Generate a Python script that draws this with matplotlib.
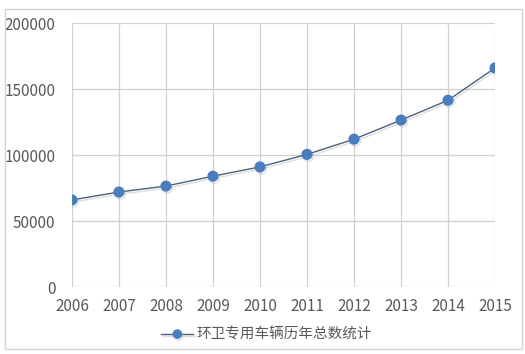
import matplotlib
matplotlib.use('Agg')
import matplotlib.pyplot as plt
from matplotlib.patches import Rectangle
import matplotlib.patheffects as pe

plt.rcParams['font.family'] = ['Noto Sans CJK SC', 'DejaVu Sans']

years = [2006, 2007, 2008, 2009, 2010, 2011, 2012, 2013, 2014, 2015]
totals = [66000, 72000, 76500, 84000, 91000, 100500, 112000, 126500, 141500, 166000]
series_name = '环卫专用车辆历年总数统计'
y_ticks = [0, 50000, 100000, 150000, 200000]

fig = plt.figure(figsize=(5.25, 3.54), dpi=100)
ax = fig.add_axes([0.137, 0.189, 0.806, 0.746])

# outer chart frame
fig.patches.append(Rectangle((0.010, 0.014), 0.984, 0.960, transform=fig.transFigure,
                             fill=False, edgecolor='#d4d4d4', linewidth=1.0))

ax.plot(years, totals, color='#4f5f7a', linewidth=1.0, marker='o', markersize=7,
        markerfacecolor='#4a7dc0', markeredgecolor='#4a7dc0', label=series_name,
        path_effects=[pe.SimpleLineShadow(offset=(1, -1.5), shadow_color='#a8adb5', alpha=0.4),
                      pe.Normal()])

ax.set_xlim(years[0], years[-1])
ax.set_ylim(0, 200000)
ax.set_xticks(years)
ax.set_yticks(y_ticks)
ax.grid(True, color='#d0d0d0', linewidth=0.9)
ax.set_axisbelow(True)
for s in ax.spines.values():
    s.set_visible(False)
ax.tick_params(length=0, labelsize=11, labelcolor='#595959')
ax.tick_params(axis='y', pad=12)
ax.tick_params(axis='x', pad=8)

leg = ax.legend(loc='upper center', bbox_to_anchor=(0.46, -0.105), frameon=False,
                fontsize=10.5, handlelength=2.2, handletextpad=0.2, markerscale=0.85)
for t in leg.get_texts():
    t.set_color('#595959')

fig.savefig('out.png', dpi=100)
